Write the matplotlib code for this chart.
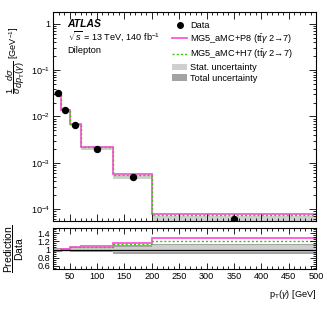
import numpy as np
import matplotlib
matplotlib.use('Agg')
import matplotlib.pyplot as plt
from matplotlib.lines import Line2D
from matplotlib.patches import Patch
from matplotlib.ticker import FixedLocator, LogLocator, NullFormatter, FuncFormatter, MultipleLocator

plt.rcParams['font.family'] = ['Liberation Sans', 'DejaVu Sans']
plt.rcParams['mathtext.fontset'] = 'custom'
plt.rcParams['mathtext.rm'] = 'Liberation Sans'
plt.rcParams['mathtext.it'] = 'Liberation Sans:italic'
plt.rcParams['mathtext.bf'] = 'Liberation Sans:bold'

# binning and values
edges = [20, 35, 50, 70, 130, 200, 500]
centers = [28, 42, 60, 100, 165, 350]
data = [0.032, 0.0138, 0.0065, 0.0020, 0.00049, 0.000062]
ratio_p8 = [0.96, 1.02, 1.07, 1.09, 1.17, 1.28]
ratio_h7 = [0.96, 1.00, 1.05, 1.07, 1.13, 1.22]
stat_up = [0.02, 0.02, 0.03, 0.03, 0.07, 0.10]
stat_dn = [0.02, 0.02, 0.03, 0.03, 0.05, 0.07]
tot_up = [0.04, 0.04, 0.05, 0.05, 0.10, 0.13]
tot_dn = [0.04, 0.04, 0.05, 0.06, 0.10, 0.12]

c_p8 = '#ff55dd'
c_h7 = '#33cc00'
c_stat = '#cfcfcf'
c_tot = '#a3a3a3'

edges = np.array(edges)
data = np.array(data)
p8 = data * np.array(ratio_p8)
h7 = data * np.array(ratio_h7)

fig = plt.figure(figsize=(3.32, 3.19), dpi=100)
ax = fig.add_axes([0.160, 0.307, 0.792, 0.655])
rx = fig.add_axes([0.160, 0.157, 0.792, 0.128], sharex=ax)

fs = 6.6

def step(a, vals, **kw):
    a.stairs(vals, edges, baseline=None, **kw)

# main panel
ax.stairs(data * (1 + np.array(tot_up)), edges, baseline=data * (1 - np.array(tot_dn)),
          fill=True, color=c_stat, lw=0)
step(ax, p8, color=c_p8, lw=1.3)
step(ax, h7, color=c_h7, lw=1.0, ls=(0, (1.5, 1.5)))
ax.plot(centers, data, 'o', color='black', ms=4.3, zorder=5)

ax.set_yscale('log')
ax.set_ylim(5.5e-5, 1.8)
ax.set_xlim(20, 500)

def logfmt(v, pos):
    e = int(round(np.log10(v)))
    if e == 0:
        return '1'
    return r'$10^{%d}$' % e

ax.yaxis.set_major_locator(LogLocator(base=10, numticks=10))
ax.yaxis.set_minor_locator(LogLocator(base=10, subs=np.arange(2, 10), numticks=10))
ax.yaxis.set_major_formatter(FuncFormatter(logfmt))
ax.yaxis.set_minor_formatter(NullFormatter())
ax.xaxis.set_major_locator(MultipleLocator(50))
ax.xaxis.set_minor_locator(MultipleLocator(10))
plt.setp(ax.get_xticklabels(), visible=False)

for a in (ax, rx):
    a.tick_params(which='both', direction='in', top=True, right=True, labelsize=fs, pad=2)
    a.tick_params(which='major', length=5, width=0.6)
    a.tick_params(which='minor', length=2.5, width=0.6)
    for s in a.spines.values():
        s.set_linewidth(0.8)

ax.set_ylabel(r'$\dfrac{1}{\sigma}\dfrac{d\sigma}{dp_{\mathrm{T}}(\gamma)}$ [GeV$^{-1}$]', fontsize=6.6, labelpad=2)
ax.yaxis.set_label_coords(-0.1, 0.77)

ax.text(0.055, 0.945, 'ATLAS', transform=ax.transAxes, fontsize=7.5, fontweight='bold',
        fontstyle='italic', va='center')
ax.text(0.055, 0.885, r'$\sqrt{s}$ = 13 TeV, 140 fb$^{-1}$', transform=ax.transAxes, fontsize=fs, va='center')
ax.text(0.055, 0.815, 'Dilepton', transform=ax.transAxes, fontsize=fs, va='center')

handles = [
    Line2D([], [], marker='o', color='black', ls='none', ms=4),
    Line2D([], [], color=c_p8, lw=1.3),
    Line2D([], [], color=c_h7, lw=1.0, ls=(0, (1.5, 1.5))),
    Patch(facecolor=c_stat, edgecolor='none'),
    Patch(facecolor=c_tot, edgecolor='none'),
]
labels = ['Data',
          r'MG5_aMC+P8 ($\mathrm{t\bar{t}}\gamma$ 2→7)',
          r'MG5_aMC+H7 ($\mathrm{t\bar{t}}\gamma$ 2→7)',
          'Stat. uncertainty',
          'Total uncertainty']
ax.legend(handles, labels, loc='upper left', bbox_to_anchor=(0.44, 0.975), frameon=False,
          fontsize=fs, handlelength=1.6, handletextpad=0.3, labelspacing=0.2, borderaxespad=0)

# ratio panel
one = np.ones(len(data))
rx.stairs(one + np.array(tot_up), edges, baseline=one - np.array(tot_dn), fill=True, color=c_tot, lw=0)
rx.stairs(one + np.array(stat_up), edges, baseline=one - np.array(stat_dn), fill=True, color=c_stat, lw=0)
rx.axhline(1, color='black', lw=0.9)
step(rx, np.array(ratio_p8), color=c_p8, lw=1.3)
step(rx, np.array(ratio_h7), color=c_h7, lw=1.0, ls=(0, (1.5, 1.5)))

rx.set_ylim(0.52, 1.53)
rx.yaxis.set_major_locator(FixedLocator([0.6, 0.8, 1.0, 1.2, 1.4]))
rx.yaxis.set_major_formatter(FuncFormatter(lambda v, p: ('%g' % v)))
rx.yaxis.set_minor_locator(MultipleLocator(0.05))
rx.tick_params(which='major', length=4)
rx.tick_params(which='minor', length=2)
rx.set_xlim(20, 500)
rx.set_ylabel(r'$\dfrac{\mathrm{Prediction}}{\mathrm{Data}}$', fontsize=7.5, labelpad=2)
rx.yaxis.set_label_coords(-0.105, 0.5)
rx.set_xlabel(r'p$_{\mathrm{T}}$($\gamma$) [GeV]', fontsize=fs, loc='right', labelpad=5)

fig.savefig('out.png', dpi=100)
